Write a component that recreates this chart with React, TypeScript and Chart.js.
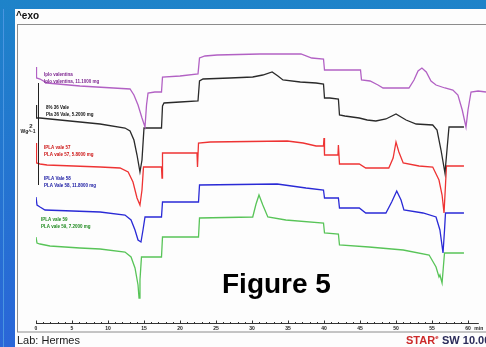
import { useEffect, useRef } from "react";
import { Chart, registerables } from "chart.js";
Chart.register(...registerables);

// time in minutes, heat flow in arbitrary offset units
const purpleT = [0, 0.07, 0.56, 1.53, 6.1, 13.06, 13.6, 14.17, 14.72, 15.14, 15.35, 15.56, 16.5, 17.43, 17.57, 20.0, 22.5, 22.71, 23.47, 25.14, 31.1, 36.8, 38.3, 39.93, 40.07, 42.2, 45.07, 45.21, 46.4, 47.5, 48.2, 51.8, 52.5, 53.06, 53.6, 54.2, 54.86, 55.56, 56.8, 57.9, 58.6, 59.2, 59.72, 60.0, 60.42, 61.4, 62.5];
const purpleV = [25.6, 24.5, 24.4, 24.0, 23.7, 23.4, 22.8, 21.8, 20.5, 19.6, 21.8, 23.0, 23.1, 23.1, 24.6, 24.7, 24.9, 26.5, 26.7, 26.8, 26.9, 26.9, 26.5, 26.4, 25.3, 25.3, 25.3, 24.3, 24.2, 23.8, 23.5, 23.5, 24.3, 25.2, 25.5, 25.1, 24.2, 23.8, 23.5, 23.3, 22.8, 21.3, 19.6, 21.3, 23.1, 23.2, 23.1];

const blackT = [0, 0.07, 0.56, 3.33, 8.9, 12.36, 13.06, 13.6, 14.03, 14.44, 14.72, 15.0, 15.83, 17.43, 17.57, 17.78, 20.0, 22.5, 22.71, 23.2, 26.9, 30.1, 31.5, 32.8, 33.6, 34.3, 36.7, 38.9, 39.93, 40.07, 40.8, 42.0, 42.15, 42.9, 44.9, 46.0, 47.2, 48.6, 50.0, 50.7, 51.4, 52.8, 55.1, 55.7, 56.25, 56.8, 57.08, 57.36, 59.44];
const blackV = [21.8, 20.5, 20.5, 20.3, 19.9, 19.5, 19.2, 18.3, 16.8, 15.1, 16.3, 19.5, 19.5, 19.5, 21.7, 22.0, 22.1, 22.2, 24.2, 24.4, 24.5, 24.6, 24.8, 25.1, 24.7, 24.3, 24.1, 24.0, 23.9, 22.5, 22.5, 22.4, 20.8, 20.7, 20.5, 20.3, 20.2, 20.4, 20.9, 20.6, 20.3, 19.9, 19.8, 19.3, 17.3, 15.0, 17.3, 19.6, 19.6];

const redT = [0, 0.07, 0.56, 1.53, 8.9, 11.67, 12.8, 13.47, 14.03, 14.44, 14.72, 14.93, 15.83, 17.43, 17.5, 17.57, 18.6, 22.36, 22.43, 22.57, 24.2, 34.9, 37.1, 38.9, 39.93, 40.0, 40.07, 41.94, 42.0, 42.15, 44.9, 45.8, 49.0, 49.6, 50.0, 50.4, 51.0, 53.2, 55.1, 55.97, 56.4, 56.67, 56.875, 57.01, 59.44];
const redV = [18.0, 16.0, 15.9, 15.8, 15.6, 15.5, 15.1, 14.1, 12.5, 11.8, 13.3, 15.6, 15.6, 15.6, 14.5, 17.0, 17.0, 17.0, 15.6, 18.0, 18.1, 18.2, 18.0, 17.7, 17.7, 18.5, 16.8, 16.8, 17.8, 15.9, 15.9, 15.5, 15.5, 16.5, 18.1, 17.1, 16.0, 15.7, 15.6, 14.3, 12.8, 11.0, 13.8, 15.7, 15.7];

const blueT = [0, 0.14, 0.56, 1.25, 8.9, 12.36, 13.2, 13.75, 14.17, 14.58, 14.86, 15.14, 17.43, 17.57, 22.57, 22.71, 33.5, 37.5, 39.93, 40.07, 42.0, 42.15, 44.9, 45.8, 48.6, 49.4, 50.1, 50.7, 51.1, 53.75, 55.56, 56.1, 56.53, 56.74, 56.875, 59.44];
const blueV = [12.6, 11.8, 11.6, 11.3, 11.1, 10.8, 10.3, 9.3, 8.3, 8.1, 9.3, 10.6, 10.6, 12.1, 12.1, 13.8, 13.9, 13.5, 13.3, 12.5, 12.5, 11.5, 11.5, 11.0, 11.0, 12.1, 13.2, 12.3, 11.3, 11.0, 10.6, 9.3, 7.0, 9.3, 11.0, 11.0];

const greenT = [0, 0.14, 0.56, 1.94, 6.1, 8.9, 12.36, 13.2, 13.75, 14.17, 14.31, 14.44, 14.65, 15.83, 17.43, 17.57, 22.57, 22.71, 30.1, 30.56, 30.97, 31.5, 32.2, 34.7, 39.93, 40.07, 42.0, 42.15, 46.25, 51.0, 54.6, 55.56, 55.97, 56.1, 56.4, 56.6, 56.74, 59.44];
const greenV = [8.6, 8.0, 7.9, 7.7, 7.5, 7.4, 7.1, 6.6, 5.5, 3.8, 2.5, 4.3, 6.6, 6.6, 6.6, 8.6, 8.6, 10.5, 10.6, 11.9, 12.8, 11.8, 10.6, 10.3, 10.0, 9.0, 8.9, 7.8, 7.6, 7.3, 6.8, 5.6, 4.6, 4.8, 4.0, 5.8, 7.0, 7.0];

const sampleTitles = ["Iplo valentina", "8% 36 Vale", "IPLA vale 57", "IPLA Vale 58", "IPLA vale 59"];
const sampleSubtitles = ["Iplo valentina, 11.1000 mg", "Pla 36 Vale, 5.2000 mg", "PLA vale 57, 5.8000 mg", "PLA Vale 58, 11.8000 mg", "PLA vale 59, 7.2000 mg"];
const majorTicks = [0, 5, 10, 15, 20, 25, 30, 35, 40, 45, 50, 55, 60];
const unitLabel = "min";

const lineColors = ["#b261c4", "#2a2a2a", "#ee3333", "#2a2ad6", "#58c458"];
const labelColors = ["#7d2590", "#111111", "#cc1111", "#1414a0", "#1f8a1f"];
const labelPos = [[44, 75], [46, 108], [44, 148], [44, 179], [41, 220]];

const pts = (t: number[], v: number[]) => t.map((x, i) => ({ x, y: v[i] }));

const decor = {
  id: "decor",
  beforeDraw(chart: any) {
    const c = chart.ctx;
    const W = chart.width, H = chart.height;
    c.save();
    const g = c.createLinearGradient(0, 0, 0, H);
    g.addColorStop(0, "#1e83c9");
    g.addColorStop(1, "#2a66d8");
    c.fillStyle = g;
    c.fillRect(0, 0, W, H);
    c.fillStyle = "#4a95e0";
    c.fillRect(3, 9, 1, H);
    c.fillStyle = "#fdfdfd";
    c.fillRect(15, 9, W - 15, H - 9);
    c.strokeStyle = "#8c8c8c";
    c.lineWidth = 1;
    c.strokeRect(17.5, 24.5, W, 307.5);
    c.fillStyle = "#111";
    c.font = "bold 10px 'Liberation Sans', Arial";
    c.textBaseline = "middle";
    c.fillText("^exo", 16, 16);
    c.restore();
  },
  afterDraw(chart: any) {
    const c = chart.ctx;
    const xs = chart.scales.x;
    const base = 323.5;
    c.save();
    // x axis
    c.strokeStyle = "#333";
    c.lineWidth = 1;
    c.beginPath();
    c.moveTo(xs.getPixelForValue(0), base);
    c.lineTo(xs.getPixelForValue(61.5), base);
    for (let m = 0; m <= 60; m++) {
      const px = Math.round(xs.getPixelForValue(m)) + 0.5;
      const h = m % 5 === 0 ? 3 : 1.5;
      c.moveTo(px, base);
      c.lineTo(px, base - h);
    }
    c.stroke();
    c.fillStyle = "#222";
    c.font = "bold 5px 'Liberation Sans', Arial";
    c.textAlign = "center";
    c.textBaseline = "middle";
    majorTicks.forEach((m) => c.fillText(String(m), xs.getPixelForValue(m), 329));
    c.fillText(unitLabel, xs.getPixelForValue(61.5), 329);
    // scale bar
    c.strokeStyle = "#222";
    c.beginPath();
    c.moveTo(38.5, 83);
    c.lineTo(38.5, 185);
    c.stroke();
    c.font = "bold 6px 'Liberation Sans', Arial";
    c.textAlign = "center";
    c.fillText("2", 31, 126);
    c.font = "bold 5px 'Liberation Sans', Arial";
    c.fillText("Wg^-1", 28, 132);
    // sample labels
    c.textAlign = "left";
    sampleTitles.forEach((s, i) => {
      c.fillStyle = labelColors[i];
      c.font = "bold 4.5px 'Liberation Sans', Arial";
      c.fillText(s, labelPos[i][0], labelPos[i][1]);
      c.fillText(sampleSubtitles[i], labelPos[i][0], labelPos[i][1] + 6.5);
    });
    // figure caption
    c.fillStyle = "#000";
    c.font = "bold 28px 'Liberation Sans', Arial";
    c.textAlign = "left";
    c.textBaseline = "alphabetic";
    c.fillText("Figure 5", 222, 293);
    // footer
    c.font = "11px 'Liberation Sans', Arial";
    c.fillStyle = "#1a1a1a";
    c.textBaseline = "middle";
    c.fillText("Lab: Hermes", 17, 341);
    c.font = "bold 11px 'Liberation Sans', Arial";
    c.fillStyle = "#cc2a2a";
    c.fillText("STAR", 406, 341);
    const w = c.measureText("STAR").width;
    c.font = "bold 6px 'Liberation Sans', Arial";
    c.fillText("e", 406 + w, 337);
    c.font = "bold 11px 'Liberation Sans', Arial";
    c.fillStyle = "#2b2b5a";
    c.fillText("SW 10.00", 442, 341);
    c.restore();
  },
};

export default function App() {
  const ref = useRef<HTMLCanvasElement>(null);
  useEffect(() => {
    if (!ref.current) return;
    const series = [pts(purpleT, purpleV), pts(blackT, blackV), pts(redT, redV), pts(blueT, blueV), pts(greenT, greenV)];
    const chart = new Chart(ref.current, {
      type: "line",
      data: {
        datasets: series.map((d, i) => ({
          label: sampleTitles[i],
          data: d,
          borderColor: lineColors[i],
          borderWidth: 1.3,
          pointRadius: 0,
          tension: 0,
          fill: false,
        })),
      },
      options: {
        animation: false,
        responsive: false,
        devicePixelRatio: 1,
        layout: { padding: { left: 36, right: 0, top: 24, bottom: 24 } },
        plugins: { legend: { display: false }, tooltip: { enabled: false } },
        scales: {
          x: { type: "linear", min: 0, max: 62.5, display: false },
          y: { type: "linear", min: 0, max: 29.9, display: false },
        },
      },
      plugins: [decor],
    });
    return () => chart.destroy();
  }, []);
  return (
    <div style={{ position: "fixed", left: 0, top: 0, width: 486, height: 347 }}>
      <canvas ref={ref} width={486} height={347} />
    </div>
  );
}
